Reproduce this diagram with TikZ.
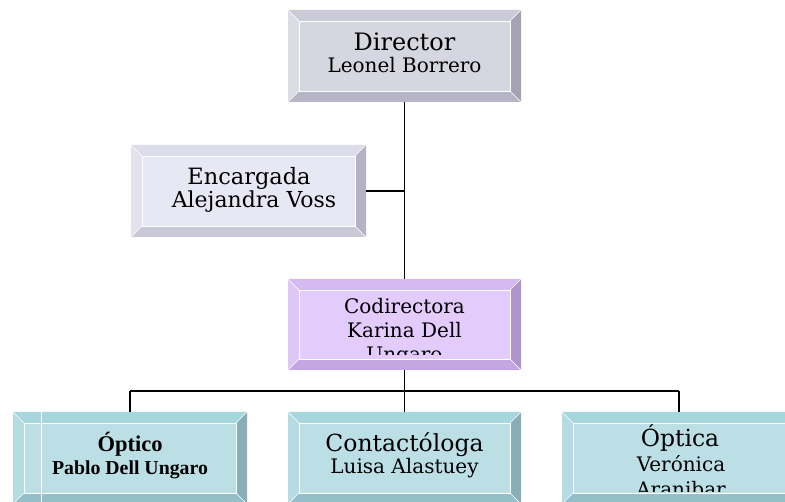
\documentclass[tikz,border=0pt]{standalone}
\usepackage{fontspec}
\setmainfont{DejaVu Serif}
\newfontfamily\timesfont{Liberation Serif}
\usetikzlibrary{calc}

% palettes: face / top / left / right / bottom bevel
\definecolor{grayface}{HTML}{D6D6E0}
\definecolor{graytop}{HTML}{CBCBD7}
\definecolor{grayleft}{HTML}{DCDCE5}
\definecolor{grayright}{HTML}{A3A3B3}
\definecolor{graybot}{HTML}{B5B5C5}

\definecolor{paleface}{HTML}{E8E8F4}
\definecolor{paletop}{HTML}{DCDCEA}
\definecolor{paleleft}{HTML}{E3E3EE}
\definecolor{paleright}{HTML}{B3B3C4}
\definecolor{palebot}{HTML}{C8C8D7}

\definecolor{lilacface}{HTML}{E3CBFB}
\definecolor{lilactop}{HTML}{D5B9F1}
\definecolor{lilacleft}{HTML}{DEC6F6}
\definecolor{lilacright}{HTML}{AF95CE}
\definecolor{lilacbot}{HTML}{C3A6E2}

\definecolor{tealface}{HTML}{BCDFE5}
\definecolor{tealtop}{HTML}{A8D6DE}
\definecolor{tealleft}{HTML}{B4DCE2}
\definecolor{tealright}{HTML}{89AEB6}
\definecolor{tealbot}{HTML}{95BFC8}

\def\bev{11pt}

% bevelled box: name, centre, width, height, palette
\newcommand\bevelbox[5]{%
  \node[minimum width=#3pt, minimum height=#4pt, inner sep=0pt, outer sep=0pt] (#1) at (#2) {};
  \coordinate (#1-a) at ($(#1.north west)+(\bev,-\bev)$);
  \coordinate (#1-b) at ($(#1.north east)+(-\bev,-\bev)$);
  \coordinate (#1-c) at ($(#1.south east)+(-\bev,\bev)$);
  \coordinate (#1-d) at ($(#1.south west)+(\bev,\bev)$);
  \fill[#5top] (#1.north west) -- (#1.north east) -- (#1-b) -- (#1-a) -- cycle;
  \fill[#5left] (#1.north west) -- (#1-a) -- (#1-d) -- (#1.south west) -- cycle;
  \fill[#5right] (#1.north east) -- (#1.south east) -- (#1-c) -- (#1-b) -- cycle;
  \fill[#5bot] (#1.south west) -- (#1-d) -- (#1-c) -- (#1.south east) -- cycle;
  \draw[white, line width=0.9pt, fill=#5face] (#1-a) rectangle (#1-c);
  \draw[white, line width=0.6pt] (#1.north west) -- (#1-a) (#1.north east) -- (#1-b)
    (#1.south east) -- (#1-c) (#1.south west) -- (#1-d);
}

\tikzset{
  lbl/.style={anchor=base, inner sep=0pt, text=black},
  link/.style={draw=black, line width=1.7pt}
}

\begin{document}
\begin{tikzpicture}[x=1pt, y=1pt]
\useasboundingbox (0,0) rectangle (785,502);
\clip (0,0) rectangle (785,502);
\fill[white] (0,0) rectangle (785,502);

% boxes
\bevelbox{dir}{404.5,446}{233}{92}{gray}
\bevelbox{enc}{248.5,311}{235}{92}{pale}
\bevelbox{cod}{404.5,177.5}{233}{91}{lilac}
\bevelbox{optA}{130,44}{234}{92}{teal}
\bevelbox{con}{404.5,44}{233}{92}{teal}
\bevelbox{optB}{679,44}{234}{92}{teal}
\draw[white, line width=0.8pt] (41,90) -- (41,0);

% connectors
\coordinate (encjoin) at (dir.south |- enc.east);
\coordinate (split) at ($(cod.south)+(0,-21)$);
\coordinate (leftend) at (optA.north |- split);
\coordinate (rightend) at (optB.north |- split);
\draw[link] (dir.south) -- (cod.north);
\draw[link] (enc.east) -- (encjoin);
\draw[link] (cod.south) -- (split);
\draw[link] (leftend) -- (rightend);
\draw[link] (leftend) -- (optA.north);
\draw[link] (split) -- (con.north);
\draw[link] (rightend) -- (optB.north);

% labels
\node[lbl, font=\fontsize{24}{28}\selectfont] (dirL1) at (404.5,451) {Director};
\node[lbl, font=\fontsize{20}{24}\selectfont] (dirL2) at (404.5,429) {Leonel Borrero};

\node[lbl, font=\fontsize{22.5}{26}\selectfont] (encL1) at (249,317) {Encargada};
\node[lbl, font=\fontsize{22}{26}\selectfont] (encL2) at (254,294) {Alejandra Voss};

\begin{scope}
  \clip (300,147) rectangle (511,212);
  \node[lbl, font=\fontsize{20}{24}\selectfont] (codL1) at (404.5,188) {Codirectora};
  \node[lbl, font=\fontsize{20}{24}\selectfont] (codL2) at (404.5,164) {Karina Dell};
  \node[lbl, font=\fontsize{20}{24}\selectfont] (codL3) at (404.5,140) {Ungaro};
\end{scope}

\node[lbl, font=\timesfont\bfseries\fontsize{22.5}{26}\selectfont] (optAL1) at (130,50) {Óptico};
\node[lbl, font=\timesfont\bfseries\fontsize{19.8}{23}\selectfont] (optAL2) at (130,27) {Pablo Dell Ungaro};

\node[lbl, font=\fontsize{23.5}{27}\selectfont] (conL1) at (404.5,50) {Contactóloga};
\node[lbl, font=\fontsize{20}{24}\selectfont] (conL2) at (404.5,28) {Luisa Alastuey};

\begin{scope}
  \clip (573,10) rectangle (785,79);
  \node[lbl, font=\fontsize{23.5}{27}\selectfont] (optBL1) at (680,55) {Óptica};
  \node[lbl, font=\fontsize{20}{24}\selectfont] (optBL2) at (681,30) {Verónica};
  \node[lbl, font=\fontsize{20}{24}\selectfont] (optBL3) at (681,5) {Aranibar};
\end{scope}
\end{tikzpicture}
\end{document}
